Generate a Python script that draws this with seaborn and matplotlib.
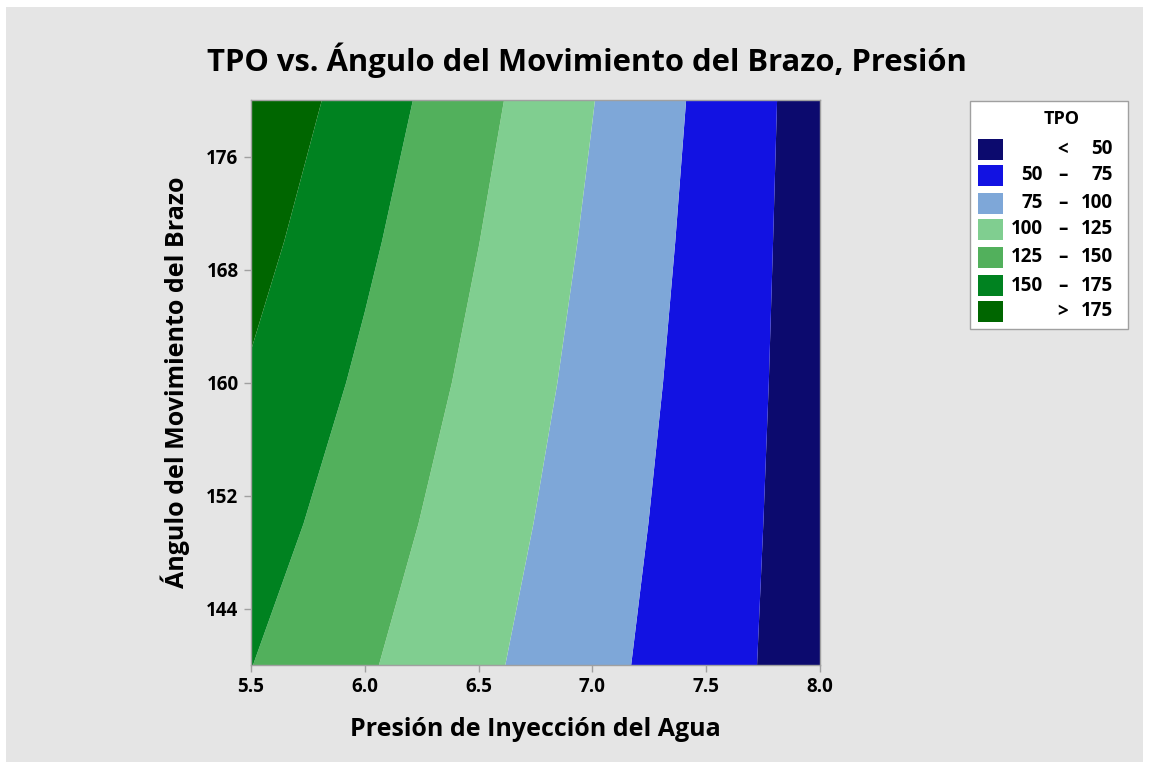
import matplotlib
matplotlib.use("Agg")
import matplotlib.pyplot as plt
from matplotlib.patches import Rectangle
import numpy as np
import seaborn as sns

# ---- data ----
presion = [5.5, 6.0, 6.5, 7.0, 7.5, 8.0]
angulo = [140, 150, 160, 170, 180]
tpo_140 = [150.4, 127.8, 105.3, 82.7, 60.1, 37.5]
tpo_150 = [161.4, 136.7, 111.9, 87.2, 62.4, 37.7]
tpo_160 = [172.5, 145.6, 118.7, 91.7, 64.8, 37.9]
tpo_170 = [183.5, 154.4, 125.3, 96.2, 67.1, 38.0]
tpo_180 = [194.5, 163.2, 132.0, 100.7, 69.5, 38.2]
niveles = [0, 50, 75, 100, 125, 150, 175, 250]
etiquetas_izq = ["", "50", "75", "100", "125", "150", ""]
etiquetas_sep = ["<", "–", "–", "–", "–", "–", ">"]
etiquetas_der = ["50", "75", "100", "125", "150", "175", "175"]
colores = ["#0C0A6E", "#1212E2", "#7EA7D8", "#80CE90", "#52B05C", "#008220", "#006600"]
xticks = [5.5, 6.0, 6.5, 7.0, 7.5, 8.0]
yticks = [144, 152, 160, 168, 176]

sns.set_style("white")
plt.rcParams["font.family"] = ["Open Sans", "DejaVu Sans"]
plt.rcParams["text.color"] = "black"
plt.rcParams["axes.labelcolor"] = "black"
plt.rcParams["xtick.color"] = "black"
plt.rcParams["ytick.color"] = "black"

W, H = 1149, 769
fig = plt.figure(figsize=(W / 100, H / 100), dpi=100)
fig.patch.set_facecolor("white")

def fx(px):
    return px / W

def fy(py):
    return 1 - py / H

# grey panel
fig.patches.append(Rectangle((fx(6), fy(762)), fx(1143) - fx(6), fy(7) - fy(762),
                             transform=fig.transFigure, facecolor="#E5E5E5",
                             edgecolor="none", zorder=-10))

ax = fig.add_axes([fx(251), fy(665), fx(820) - fx(251), fy(100) - fy(665)])
ax.set_zorder(1)
pal = sns.color_palette(colores)
Z = np.array([tpo_140, tpo_150, tpo_160, tpo_170, tpo_180])
ax.contourf(presion, angulo, Z, levels=niveles, colors=pal, antialiased=True)
ax.set_xlim(5.5, 8.0)
ax.set_ylim(140, 180)
ax.set_xticks(xticks)
ax.set_xticklabels([f"{v:.1f}" for v in xticks])
ax.set_yticks(yticks)
for s in ax.spines.values():
    s.set_color("#A0A0A0")
    s.set_linewidth(1.0)
ax.tick_params(axis="both", direction="out", length=5, width=1, color="#A0A0A0",
               labelcolor="black", labelsize=13.5, pad=4, bottom=True, left=True)
for lab in ax.get_xticklabels() + ax.get_yticklabels():
    lab.set_fontweight("bold")
ax.set_xlabel("Presión de Inyección del Agua", fontsize=18, fontweight="bold",
              labelpad=14, color="black")
ax.set_ylabel("Ángulo del Movimiento del Brazo", fontsize=18, fontweight="bold",
              labelpad=12, color="black")

fig.text(fx(587), fy(60), "TPO vs. Ángulo del Movimiento del Brazo, Presión",
         ha="center", va="center", fontsize=22.3, fontweight="bold", color="black")

# legend
lx0, lx1, ly0, ly1 = 970, 1128, 101, 329
fig.patches.append(Rectangle((fx(lx0), fy(ly1)), fx(lx1) - fx(lx0), fy(ly0) - fy(ly1),
                             transform=fig.transFigure, facecolor="white",
                             edgecolor="#A0A0A0", linewidth=1, zorder=2))
fig.text(fx(1062), fy(119), "TPO", ha="center", va="center", fontsize=13,
         fontweight="bold", color="black", zorder=3)
ytops = [139, 165, 193, 219, 247, 275, 301]
for i in range(7):
    yc = ytops[i] + 10.5
    fig.patches.append(Rectangle((fx(978), fy(ytops[i] + 21)), fx(1003) - fx(978),
                                 fy(ytops[i]) - fy(ytops[i] + 21),
                                 transform=fig.transFigure, facecolor=pal[i],
                                 edgecolor="none", zorder=3))
    if etiquetas_izq[i]:
        fig.text(fx(1043), fy(yc), etiquetas_izq[i], ha="right", va="center",
                 fontsize=13.5, fontweight="bold", color="black", zorder=3)
    fig.text(fx(1063), fy(yc), etiquetas_sep[i], ha="center", va="center",
             fontsize=13.5, fontweight="bold", color="black", zorder=3)
    fig.text(fx(1113), fy(yc), etiquetas_der[i], ha="right", va="center",
             fontsize=13.5, fontweight="bold", color="black", zorder=3)

fig.savefig("out.png", dpi=100)
